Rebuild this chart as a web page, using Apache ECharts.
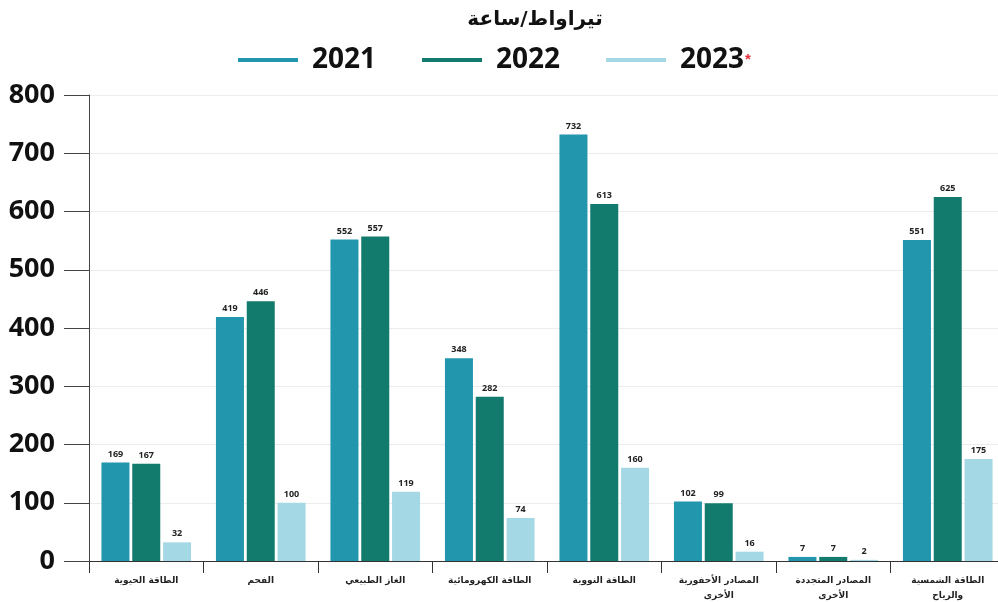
<!DOCTYPE html>
<html>
<head>
<meta charset="utf-8">
<script src="https://cdn.jsdelivr.net/npm/echarts@6/dist/echarts.min.js"></script>
<style>
  html, body { margin: 0; padding: 0; background: #fff; }
  #chart { width: 998px; height: 602px; }
</style>
</head>
<body>
<div id="chart"></div>
<script>
// الاستهلاك حسب المصدر - تيراواط/ساعة
const categories = [
  'الطاقة الحيوية',
  'الفحم',
  'الغاز الطبيعي',
  'الطاقة الكهرومائية',
  'الطاقة النووية',
  'المصادر الأحفورية\nالأخرى',
  'المصادر المتجددة\nالأخرى',
  'الطاقة الشمسية\nوالرياح'
]
const years = ['2021', '2022', '2023']
const values2021 = [169, 419, 552, 348, 732, 102, 7, 551]
const values2022 = [167, 446, 557, 282, 613, 99, 7, 625]
const values2023 = [32, 100, 119, 74, 160, 16, 2, 175]
const yTicks = [0, 100, 200, 300, 400, 500, 600, 700, 800]

const colors = ['#2196ad', '#137a6e', '#a5d8e5']
const font = '"Open Sans", "DejaVu Sans", sans-serif'

const chart = echarts.init(document.getElementById('chart'), null, { renderer: 'canvas' })

const makeSeries = (name, data, i) => ({
  name: name,
  type: 'bar',
  data: data,
  barWidth: 28,
  barGap: '10%',
  itemStyle: { color: colors[i] },
  label: {
    show: true,
    position: 'top',
    distance: 4,
    fontSize: 9,
    fontWeight: 'bold',
    color: '#222',
    fontFamily: font
  }
})

chart.setOption({
  animation: false,
  color: colors,
  title: {
    text: 'تيراواط/ساعة',
    left: 530,
    top: 5,
    textAlign: 'center',
    textStyle: { fontSize: 20, fontWeight: 'bold', color: '#111', fontFamily: '"DejaVu Sans", sans-serif' }
  },
  legend: {
    top: 41,
    left: 233,
    itemWidth: 60,
    itemHeight: 4,
    itemGap: 46,
    icon: 'rect',
    data: years,
    formatter: (n) => n === '2023' ? '{y|' + n + '}{s|*}' : '{y|' + n + '}',
    textStyle: {
      rich: {
        y: { fontSize: 28, fontWeight: 'bold', color: '#111', fontFamily: font, padding: [0, 0, 0, 9] },
        s: { fontSize: 15, color: '#e0303a', fontWeight: 'bold', padding: [0, 0, 0, 1] }
      }
    }
  },
  grid: {
    left: 89,
    top: 95,
    width: 916,
    height: 466,
    outerBoundsMode: 'none'
  },
  xAxis: {
    type: 'category',
    data: categories,
    axisLine: { lineStyle: { color: '#333', width: 1 } },
    axisTick: { show: true, length: 12, lineStyle: { color: '#333' } },
    axisLabel: {
      interval: 0,
      margin: 12,
      fontSize: 9,
      fontWeight: 'bold',
      color: '#222',
      lineHeight: 15,
      fontFamily: '"DejaVu Sans", sans-serif'
    }
  },
  yAxis: {
    type: 'value',
    min: yTicks[0],
    max: yTicks[yTicks.length - 1],
    interval: 100,
    axisLine: { show: true, lineStyle: { color: '#444', width: 1 } },
    axisTick: { show: true, length: 25, lineStyle: { color: '#444' } },
    axisLabel: {
      margin: 34,
      fontSize: 27,
      fontWeight: 'bold',
      color: '#111',
      fontFamily: font
    },
    splitLine: { lineStyle: { color: '#ececec', width: 1 } }
  },
  series: [
    makeSeries(years[0], values2021, 0),
    makeSeries(years[1], values2022, 1),
    makeSeries(years[2], values2023, 2)
  ]
})
</script>
</body>
</html>
